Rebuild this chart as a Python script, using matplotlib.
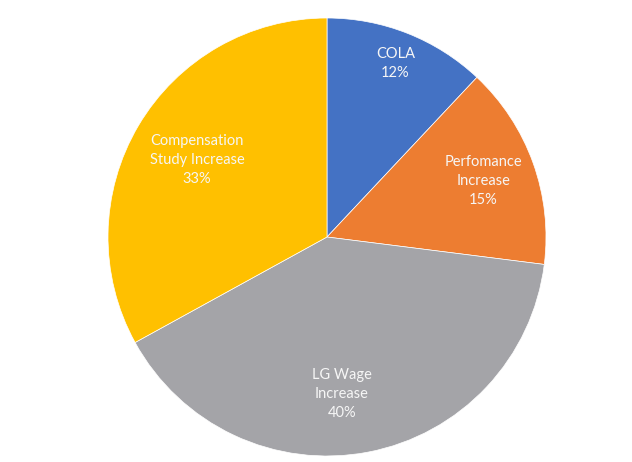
import matplotlib
matplotlib.use("Agg")
import matplotlib.pyplot as plt

# slice data, clockwise from 12 o'clock
labels = ["COLA", "Perfomance\nIncrease", "LG Wage\nIncrease", "Compensation\nStudy Increase"]
shares = [12, 15, 40, 33]
colors = ["#4472C4", "#ED7D31", "#A4A4A8", "#FFC000"]

fig = plt.figure(figsize=(6.32, 4.62), dpi=100)
# pie centre at about (327, 237) px, radius 219 px
ax = fig.add_axes([(327 - 219) / 632, (462 - 456) / 462, 438 / 632, 438 / 462])

text_labels = [f"{l}\n{s}%" for l, s in zip(labels, shares)]
wedges, texts = ax.pie(shares, labels=text_labels, colors=colors, startangle=90,
                       counterclock=False, labeldistance=1.0,
                       wedgeprops=dict(edgecolor="white", linewidth=0.5),
                       textprops=dict(color="#f6f6f6", fontsize=10.5, family="Lato",
                                      linespacing=1.45))

# how far out each label sits, as in the original
label_r = [0.85, 0.76, 0.73, 0.69]
for t, r in zip(texts, label_r):
    t.set_ha("center")
    t.set_va("center")
    x, y = t.get_position()
    t.set_position((x * r, y * r))
x, y = texts[2].get_position()
texts[2].set_position((x - 0.07, y))

ax.set_xlim(-1, 1)
ax.set_ylim(-1, 1)
ax.set_aspect("equal")
ax.axis("off")

fig.savefig("out.png", dpi=100)
